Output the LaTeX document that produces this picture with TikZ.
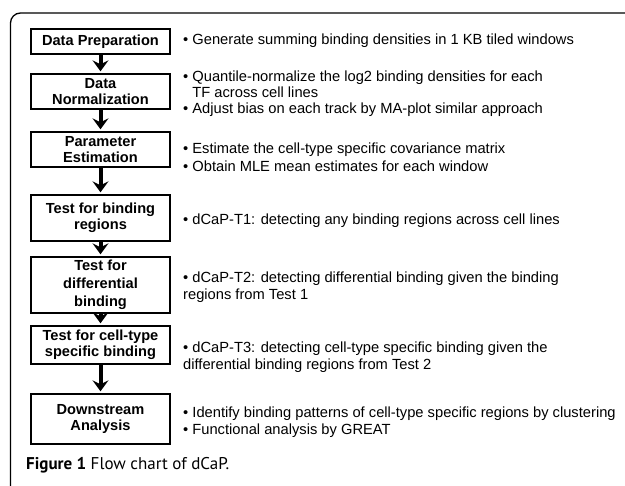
\documentclass[tikz,border=0pt]{standalone}
\usepackage{fontspec}
\setmainfont{Liberation Sans}
\newfontfamily\capfont{PT Sans}
\usetikzlibrary{arrows.meta}
\begin{document}
\begin{tikzpicture}[x=1pt,y=-1pt,
    stage/.style={draw,line width=2.8pt,minimum width=139pt,inner sep=0pt,
        align=center,font=\fontsize{14.6}{16.5}\selectfont\bfseries},
    note/.style={anchor=west,align=left,inner sep=0pt,
        font=\fontsize{14.7}{15.8}\selectfont},
    flow/.style={line width=4pt,shorten >=1.3pt,
        -{Stealth[length=11pt,width=16pt,inset=4pt]}}]
    \useasboundingbox (0,0) rectangle (625,486);
    \draw[line width=1.3pt,rounded corners=10pt] (10.5,492) |- (632,13);
    \node[stage,minimum height=25pt] (prep) at (100.5,41.5) {Data Preparation};
    \node[stage,minimum height=35pt] (norm) at (100.5,91.5) {Data\\Normalization};
    \node[stage,minimum height=35pt] (param) at (100.5,149.5) {Parameter\\Estimation};
    \node[stage,minimum height=46pt] (tbind) at (100.5,218) {Test for binding\\regions};
    \node[stage,minimum height=56pt,font=\fontsize{14.6}{18}\selectfont\bfseries]
        (tdiff) at (100.5,285) {Test for\\differential\\binding};
    \node[stage,minimum height=38pt] (tcell) at (100.5,345) {Test for cell-type\\specific binding};
    \node[stage,minimum height=50pt] (down) at (100.5,419) {Downstream\\Analysis};
    \foreach \a/\b in {prep/norm,norm/param,param/tbind,tbind/tdiff,tdiff/tcell,tcell/down}
        \draw[flow] (\a.south) -- (\b.north);
    \node[note] (n1) at (183,41) {• Generate summing binding densities in 1 KB tiled windows};
    \node[note] (n2) at (183,93.5) {• Quantile-normalize the log2 binding densities for each\\
        \hphantom{• }TF across cell lines\\
        • Adjust bias on each track by MA-plot similar approach};
    \node[note] (n3) at (183,157) {• Estimate the cell-type specific covariance matrix\\[2pt]
        • Obtain MLE mean estimates for each window};
    \node[note] (n4) at (183,221) {• dCaP-T1: detecting any binding regions across cell lines};
    \node[note] (n5) at (183,287.5) {• dCaP-T2: detecting differential binding given the binding\\[1pt]
        regions from Test 1};
    \node[note] (n6) at (183,357.5) {• dCaP-T3: detecting cell-type specific binding given the\\[1pt]
        differential binding regions from Test 2};
    \node[note] (n7) at (183,422.5) {• Identify binding patterns of cell-type specific regions by clustering\\[1pt]
        • Functional analysis by GREAT};
    \node[anchor=base west,inner sep=0pt,font=\capfont\fontsize{17}{20}\selectfont]
        (cap) at (26,470) {\textbf{Figure 1} Flow chart of dCaP.};
\end{tikzpicture}
\end{document}
